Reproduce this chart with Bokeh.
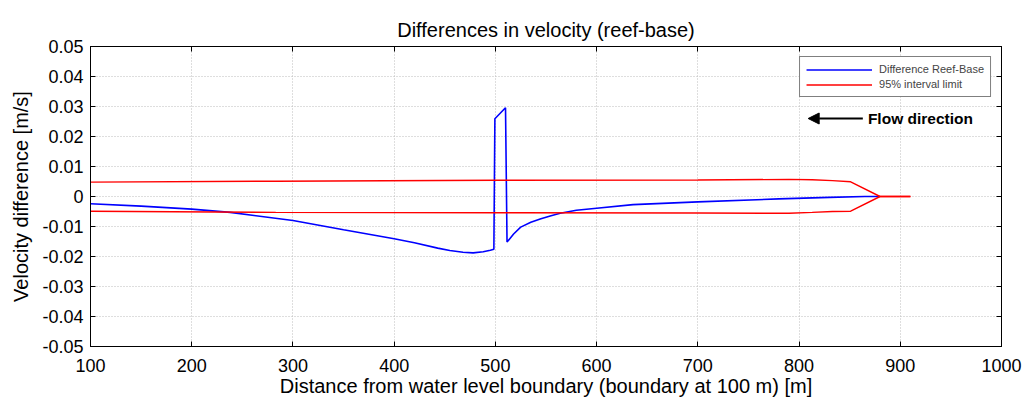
from bokeh.plotting import figure
from bokeh.models import (FixedTicker, NumeralTickFormatter, LinearAxis, Arrow,
                          NormalHead, Label, Legend, LegendItem, Range1d)
from bokeh.embed import file_html
from bokeh.resources import INLINE

FONT = "Liberation Sans"

title_text = "Differences in velocity (reef-base)"
x_label = "Distance from water level boundary (boundary at 100 m) [m]"
y_label = "Velocity difference [m/s]"
x_ticks = [100, 200, 300, 400, 500, 600, 700, 800, 900, 1000]
y_ticks = [-0.05, -0.04, -0.03, -0.02, -0.01, 0, 0.01, 0.02, 0.03, 0.04, 0.05]

# Difference Reef-Base (blue)
diff_x = [100, 150, 200, 238, 300, 350, 400, 420, 443, 455, 468, 478, 488, 495, 498.5,
          499.5, 510, 511.5, 518, 525, 535, 545, 555, 564, 580, 600, 636, 700,
          780, 830, 865, 880]
diff_y = [-0.0024, -0.0032, -0.0042, -0.0053, -0.0080, -0.0111, -0.0141, -0.0154,
          -0.0172, -0.0180, -0.0186, -0.0188, -0.0184, -0.0179, -0.0176,
          0.0259, 0.0296, -0.0152, -0.0125, -0.0102, -0.0086, -0.0074, -0.0064,
          -0.0056, -0.0046, -0.0039, -0.0027, -0.0018, -0.0008, -0.0003, 0.0, 0.0]

# 95% interval limit (red)
limit_x = [100, 283, 500, 700, 790, 813, 833, 851, 880, 910]
limit_upper = [0.0048, 0.0051, 0.0054, 0.0055, 0.0057, 0.0056, 0.0053, 0.0049, 0.0, 0.0]
limit_lower = [-0.0049, -0.0053, -0.0054, -0.0055, -0.0056, -0.0053, -0.0050, -0.0049, 0.0, 0.0]

legend_labels = ["Difference Reef-Base", "95% interval limit"]

flow_label = "Flow direction"
flow_arrow_tail = 863
flow_arrow_tip = 809
flow_level = 0.026
flow_text_x = 868

p = figure(width=1025, height=401, x_range=Range1d(100, 1000), y_range=Range1d(-0.05, 0.05),
           output_backend="svg", toolbar_location=None, tools="",
           min_border_left=90, min_border_right=24, min_border_top=46, min_border_bottom=55,
           x_axis_label=x_label, y_axis_label=y_label)

p.title.text = title_text
p.title.align = "center"
p.title.text_font = FONT
p.title.text_font_size = "20px"
p.title.text_font_style = "normal"
p.title.text_color = "black"
p.title.standoff = 12

p.outline_line_color = "black"
p.outline_line_width = 1
p.background_fill_color = "white"
p.border_fill_color = "white"

for ax in (p.xaxis[0], p.yaxis[0]):
    ax.major_tick_in = 5
    ax.major_tick_out = 0
    ax.minor_tick_in = 0
    ax.minor_tick_out = 0
    ax.axis_line_color = "black"
    ax.major_tick_line_color = "black"
    ax.major_label_text_font = FONT
    ax.major_label_text_font_size = "18px"
    ax.major_label_text_color = "black"
    ax.axis_label_text_font = FONT
    ax.axis_label_text_font_size = "20px"
    ax.axis_label_text_font_style = "normal"
    ax.axis_label_text_color = "black"

p.xaxis[0].ticker = FixedTicker(ticks=x_ticks)
p.yaxis[0].ticker = FixedTicker(ticks=y_ticks)
p.yaxis[0].formatter = NumeralTickFormatter(format="0.[00]")
p.xaxis[0].major_label_standoff = 12
p.yaxis[0].major_label_standoff = 7
p.xaxis[0].axis_label_standoff = 0
p.yaxis[0].axis_label_standoff = 7

top_ax = LinearAxis(ticker=FixedTicker(ticks=x_ticks), major_label_text_font_size="1px",
                    major_label_text_color=None,
                    major_tick_in=5, major_tick_out=0, minor_tick_in=0, minor_tick_out=0,
                    major_label_standoff=0, axis_line_color="black")
right_ax = LinearAxis(ticker=FixedTicker(ticks=y_ticks), major_label_text_font_size="1px",
                      major_label_text_color=None,
                      major_tick_in=5, major_tick_out=0, minor_tick_in=0, minor_tick_out=0,
                      major_label_standoff=0, axis_line_color="black")
p.add_layout(top_ax, "above")
p.add_layout(right_ax, "right")

p.xgrid.ticker = FixedTicker(ticks=x_ticks)
p.ygrid.ticker = FixedTicker(ticks=y_ticks)
p.grid.grid_line_color = "#bdbdbd"
p.grid.grid_line_dash = "1 2"
p.grid.grid_line_width = 1

r_diff = p.line(diff_x, diff_y, line_color="#0000ff", line_width=1.6)
r_up = p.line(limit_x, limit_upper, line_color="#ff0000", line_width=1.4)
r_lo = p.line(limit_x, limit_lower, line_color="#ff0000", line_width=1.4)

legend = Legend(items=[LegendItem(label=legend_labels[0], renderers=[r_diff]),
                       LegendItem(label=legend_labels[1], renderers=[r_up])],
                location="top_right", margin=10, padding=6, spacing=3,
                label_height=11, glyph_height=11, glyph_width=66, label_standoff=7,
                label_text_font=FONT, label_text_font_size="11px",
                border_line_color="black", border_line_width=1,
                background_fill_color="white", background_fill_alpha=1)
p.add_layout(legend)

p.add_layout(Arrow(end=NormalHead(size=11, fill_color="black", line_color="black"),
                   x_start=flow_arrow_tail, y_start=flow_level,
                   x_end=flow_arrow_tip, y_end=flow_level,
                   line_color="black", line_width=2))
p.add_layout(Label(x=flow_text_x, y=flow_level, text=flow_label, text_font=FONT,
                   text_font_size="15.5px", text_font_style="bold", text_baseline="middle",
                   text_color="black"))

open("out.html", "w").write(file_html(p, INLINE))
